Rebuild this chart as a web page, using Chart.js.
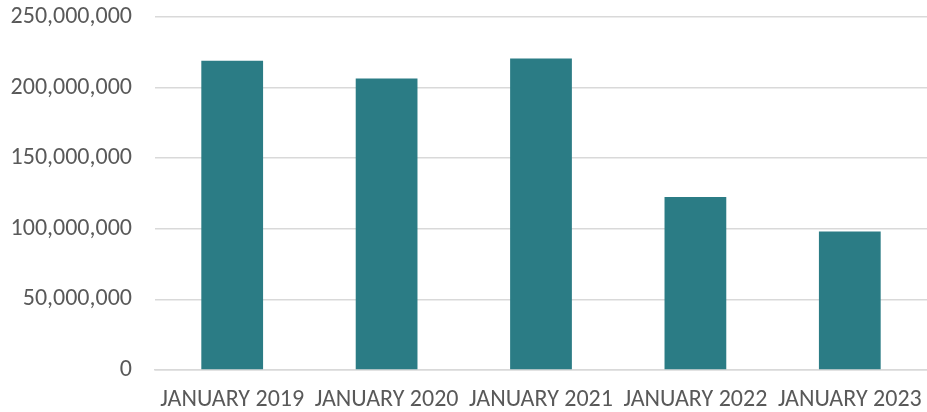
<!DOCTYPE html>
<html>
<head>
<meta charset="utf-8">
<script src="https://cdn.jsdelivr.net/npm/chart.js@4/dist/chart.umd.min.js"></script>
<style>
  html, body { margin: 0; padding: 0; background: #ffffff; }
  #wrap { width: 927px; height: 412px; position: relative; }
</style>
</head>
<body>
<div id="wrap"><canvas id="c" width="927" height="412"></canvas></div>
<script>
// Monthly totals for January of each year
const categories = ['JANUARY 2019', 'JANUARY 2020', 'JANUARY 2021', 'JANUARY 2022', 'JANUARY 2023'];
const totals = [219100000, 206400000, 220600000, 122500000, 98100000];
const yTicks = [0, 50000000, 100000000, 150000000, 200000000, 250000000];

const fontFamily = 'Carlito, Lato, "Liberation Sans", Arial, sans-serif';
const textColor = '#595959';
const gridColor = '#d9d9d9';
const barColor = '#2b7c85';

new Chart(document.getElementById('c'), {
  type: 'bar',
  data: {
    labels: categories,
    datasets: [{
      data: totals,
      backgroundColor: barColor,
      borderWidth: 0,
      barPercentage: 0.8,
      categoryPercentage: 0.5
    }]
  },
  options: {
    responsive: false,
    animation: false,
    devicePixelRatio: 1,
    layout: { padding: { top: 17, right: 0, bottom: 0, left: 0 } },
    plugins: { legend: { display: false }, tooltip: { enabled: false } },
    scales: {
      x: {
        grid: { display: false, drawTicks: false },
        border: { display: true, color: gridColor, width: 1.5 },
        ticks: {
          color: textColor,
          font: { family: fontFamily, size: 24 },
          padding: 16,
          maxRotation: 0,
          minRotation: 0,
          autoSkip: false
        },
        afterFit(scale) {
          scale.height = 42;
          scale.paddingLeft = 0;
          scale.paddingRight = 0;
        }
      },
      y: {
        min: 0,
        max: 250000000,
        afterBuildTicks(scale) { scale.ticks = yTicks.map(v => ({ value: v })); },
        grid: { color: gridColor, lineWidth: 1.5, drawTicks: false },
        border: { display: false },
        ticks: {
          color: textColor,
          font: { family: fontFamily, size: 24 },
          padding: 23,
          callback: v => v.toLocaleString('en-US')
        },
        afterFit(scale) {
          scale.width = 155;
          scale.paddingTop = 0;
          scale.paddingBottom = 0;
        }
      }
    }
  }
});
</script>
</body>
</html>
